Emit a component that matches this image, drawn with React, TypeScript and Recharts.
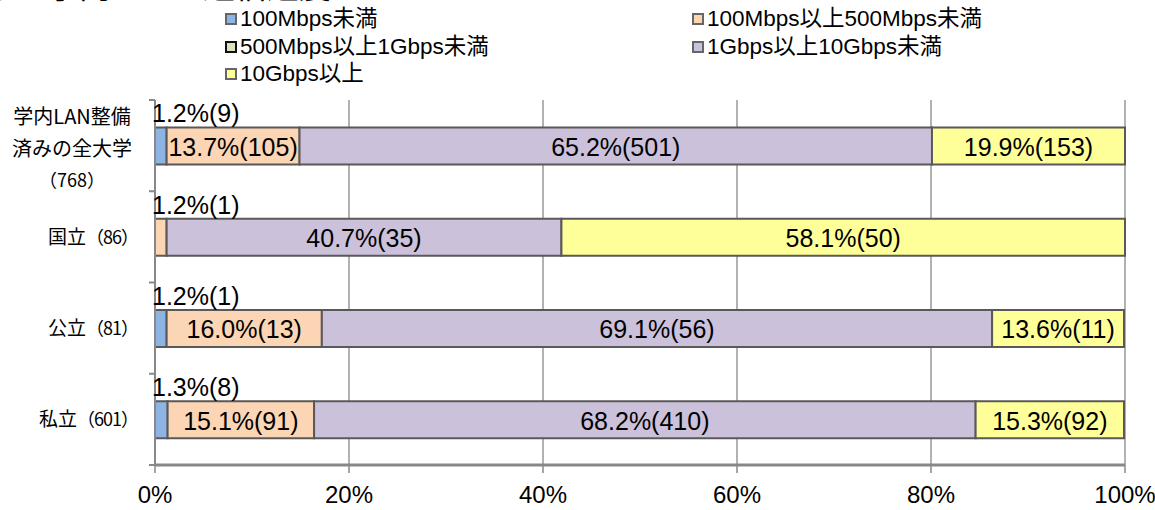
import { Bar, BarChart, CartesianGrid, LabelList, XAxis, YAxis } from "recharts";

const CATEGORIES = ["学内LAN整備済みの全大学", "国立", "公立", "私立"];
const TOTALS = [768, 86, 81, 601];
const SERIES = [
  "100Mbps未満",
  "100Mbps以上500Mbps未満",
  "500Mbps以上1Gbps未満",
  "1Gbps以上10Gbps未満",
  "10Gbps以上",
];
const COLORS = ["#8db4e2", "#fcd5b5", "#d7e4bd", "#ccc1da", "#ffff99"];
const LEGEND_BORDERS = ["#666", "#666", "#111", "#666", "#666"];

// share (%) and number of universities per speed band, one entry per category
const UNDER_100M = [1.2, 0, 1.2, 1.3];
const UNDER_100M_N = [9, 0, 1, 8];
const UNDER_500M = [13.7, 1.2, 16.0, 15.1];
const UNDER_500M_N = [105, 1, 13, 91];
const UNDER_1G = [0, 0, 0, 0];
const UNDER_1G_N = [0, 0, 0, 0];
const UNDER_10G = [65.2, 40.7, 69.1, 68.2];
const UNDER_10G_N = [501, 35, 56, 410];
const OVER_10G = [19.9, 58.1, 13.6, 15.3];
const OVER_10G_N = [153, 50, 11, 92];

const X_TICKS = [0, 20, 40, 60, 80, 100];

const SHARES = [UNDER_100M, UNDER_500M, UNDER_1G, UNDER_10G, OVER_10G];
const COUNTS = [UNDER_100M_N, UNDER_500M_N, UNDER_1G_N, UNDER_10G_N, OVER_10G_N];

const data = CATEGORIES.map((name, c) => {
  const row: Record<string, string | number> = { name };
  SHARES.forEach((s, i) => {
    row[`s${i}`] = s[c];
    row[`l${i}`] = COUNTS[i][c] > 0 ? `${s[c].toFixed(1)}%(${COUNTS[i][c]})` : "";
  });
  return row;
});

const W = 1155;
const H = 510;
const PLOT_TOP = 100;
const PLOT_LEFT = 155;
const X_AXIS_H = 45;
const BAND = (H - PLOT_TOP - X_AXIS_H) / CATEGORIES.length;

const FONT = "'Liberation Sans', 'Noto Sans CJK JP', sans-serif";
const CJK = "'Noto Sans CJK JP', sans-serif";

// narrow segments get their label above the bar, the rest are centred inside
const renderSegmentLabel = (props: any) => {
  const { x, y, width, height, value } = props;
  if (!value) return null;
  if (width < 30) {
    return (
      <text x={x - 3} y={y - 5} fontSize={25} fontFamily={FONT} fill="#000" textAnchor="start">
        {value}
      </text>
    );
  }
  return (
    <text
      x={x + width / 2}
      y={y + height / 2 + 1}
      fontSize={25}
      fontFamily={FONT}
      fill="#000"
      textAnchor="middle"
      dominantBaseline="central"
    >
      {value}
    </text>
  );
};

const CategoryTick = (props: any) => {
  const { y, payload, index } = props;
  const name = CATEGORIES[index] ?? payload.value;
  const total = TOTALS[index];
  const marks = (
    <g stroke="#888" strokeWidth={2}>
      <line x1={PLOT_LEFT - 6} x2={PLOT_LEFT} y1={y - BAND / 2} y2={y - BAND / 2} />
      {index === CATEGORIES.length - 1 && (
        <line x1={PLOT_LEFT - 6} x2={PLOT_LEFT} y1={y + BAND / 2} y2={y + BAND / 2} />
      )}
    </g>
  );
  if (index === 0) {
    return (
      <g>
        {marks}
        <text x={72} fontFamily={CJK} fontSize={20} fill="#000" textAnchor="middle">
          <tspan x={72} y={y - 22}>学内LAN整備</tspan>
          <tspan x={72} y={y + 10}>済みの全大学</tspan>
          <tspan x={72} y={y + 41} fontSize={18}>（{total}）</tspan>
        </text>
      </g>
    );
  }
  return (
    <g>
      {marks}
      <text x={138} y={y + 7} fontFamily={CJK} fontSize={19} fill="#000" textAnchor="end">
        {name}
        <tspan fontSize={18} letterSpacing={-1}>（{total}）</tspan>
      </text>
    </g>
  );
};

const LEGEND_POS = [
  { left: 225, top: 7 },
  { left: 692, top: 7 },
  { left: 225, top: 35 },
  { left: 692, top: 35 },
  { left: 225, top: 62 },
];

export default function App() {
  return (
    <div style={{ position: "absolute", left: 0, top: 0, width: W, height: H, background: "#fff", overflow: "hidden" }}>
      <div
        style={{
          position: "absolute",
          left: -81,
          top: -32,
          fontFamily: CJK,
          fontSize: 32,
          lineHeight: "32px",
          whiteSpace: "nowrap",
          color: "#000",
        }}
      >
        における学内LANの通信速度
      </div>

      {SERIES.map((s, i) => (
        <div
          key={s}
          style={{
            position: "absolute",
            left: LEGEND_POS[i].left,
            top: LEGEND_POS[i].top,
            display: "flex",
            alignItems: "center",
            fontFamily: FONT,
            fontSize: 22.5,
            lineHeight: "24px",
            color: "#000",
            whiteSpace: "nowrap",
          }}
        >
          <span
            style={{
              display: "inline-block",
              width: 8,
              height: 8,
              background: COLORS[i],
              border: `2px solid ${LEGEND_BORDERS[i]}`,
              marginRight: 3,
            }}
          />
          {s}
        </div>
      ))}

      <BarChart
        width={W}
        height={H}
        data={data}
        layout="vertical"
        barCategoryGap="30%"
        margin={{ top: PLOT_TOP, right: 30, left: 0, bottom: 0 }}
      >
        <CartesianGrid horizontal={false} stroke="#999" strokeWidth={1.5} />
        <XAxis
          type="number"
          domain={[0, 100]}
          ticks={X_TICKS}
          tickFormatter={(v) => `${v}%`}
          height={X_AXIS_H}
          axisLine={{ stroke: "#888", strokeWidth: 3 }}
          tickLine={{ stroke: "#888", strokeWidth: 1.5 }}
          tickSize={8}
          tickMargin={13}
          tick={{ fill: "#000", fontSize: 24, fontFamily: FONT }}
          interval={0}
        />
        <YAxis
          type="category"
          dataKey="name"
          width={PLOT_LEFT}
          axisLine={{ stroke: "#888", strokeWidth: 2 }}
          tickLine={false}
          interval={0}
          tick={(p: any) => <CategoryTick {...p} />}
        />
        {SERIES.map((s, i) => (
          <Bar
            key={s}
            name={s}
            dataKey={`s${i}`}
            stackId="a"
            fill={COLORS[i]}
            stroke="#595959"
            strokeWidth={2}
            isAnimationActive={false}
          >
            <LabelList dataKey={`l${i}`} content={renderSegmentLabel} />
          </Bar>
        ))}
      </BarChart>
    </div>
  );
}
